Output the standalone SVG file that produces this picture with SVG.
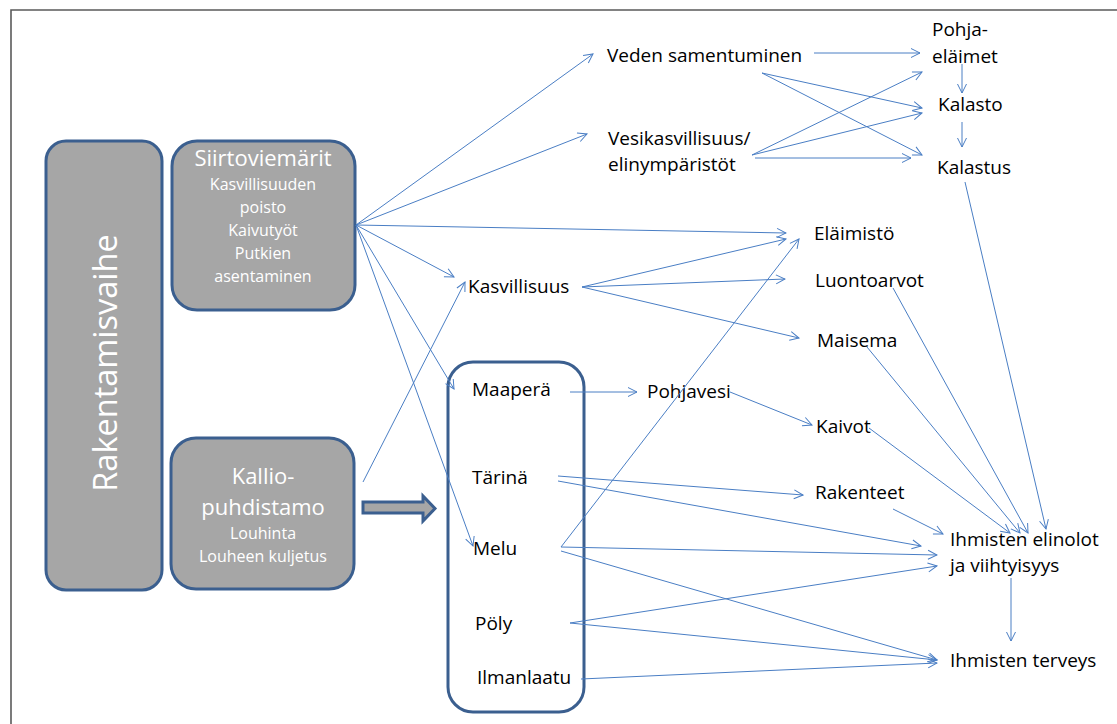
<svg xmlns="http://www.w3.org/2000/svg" width="1117" height="724" viewBox="0 0 1117 724">
  <style>
    .frame { fill: none; stroke: #5a5a5a; stroke-width: 1.6; }
    .phase { fill: #a6a6a6; stroke: #3b5f8f; stroke-width: 3; }
    .group { fill: none; stroke: #3b5f8f; stroke-width: 3; }
    .wt { font-family: "Open Sans", "Noto Sans", sans-serif; fill: #ffffff; text-anchor: middle; }
    .lbl { font-family: "Open Sans", "Noto Sans", sans-serif; font-size: 19px; fill: #000000; }
    .c line { stroke: #4a7ec4; stroke-width: 1; fill: none; marker-end: url(#ah); }
  </style>
  <defs>
    <marker id="ah" viewBox="-11 -6 12 12" refX="0" refY="0" markerWidth="12" markerHeight="12" markerUnits="userSpaceOnUse" orient="auto">
      <path d="M-9,-4.5 L0,0 L-9,4.5" fill="none" stroke="#4a7ec4" stroke-width="1"/>
    </marker>
  </defs>
  <rect width="1117" height="724" fill="#ffffff"/>
  <!-- page frame: top and left edges only -->
  <path class="frame" d="M11,724 L11,10 L1117,10"/>

  <!-- left-hand phase boxes -->
  <g id="rakentamisvaihe">
    <rect class="phase" x="46" y="141" width="116" height="449" rx="20"/>
    <text class="wt" font-size="32.5" transform="translate(117,363) rotate(-90)">Rakentamisvaihe</text>
  </g>
  <g id="siirtoviemarit">
    <rect class="phase" x="172" y="141" width="183" height="169" rx="25"/>
    <text class="wt" font-size="22" x="263" y="166">Siirtoviemärit</text>
    <text class="wt" font-size="16" x="263" y="190">Kasvillisuuden</text>
    <text class="wt" font-size="16" x="263" y="213">poisto</text>
    <text class="wt" font-size="16" x="263" y="236">Kaivutyöt</text>
    <text class="wt" font-size="16" x="263" y="259">Putkien</text>
    <text class="wt" font-size="16" x="263" y="282">asentaminen</text>
  </g>
  <g id="kalliopuhdistamo">
    <rect class="phase" x="171" y="438" width="183" height="151" rx="25"/>
    <text class="wt" font-size="22" x="263" y="484">Kallio-</text>
    <text class="wt" font-size="22" x="263" y="515">puhdistamo</text>
    <text class="wt" font-size="16" x="263" y="539">Louhinta</text>
    <text class="wt" font-size="16" x="263" y="562">Louheen kuljetus</text>
  </g>
  <g id="block-arrow">
    <path class="phase" stroke-width="2.5" d="M363,502 L423,502 L423,496 L435,508.5 L423,521 L423,513 L363,513 Z"/>
  </g>

  <!-- grouped effects box -->
  <g id="effects-box">
    <rect class="group" x="448" y="362" width="136" height="350" rx="25"/>
  </g>
  <g id="maapera"><text class="lbl" x="472" y="396">Maaperä</text></g>
  <g id="tarina"><text class="lbl" x="472" y="484">Tärinä</text></g>
  <g id="melu"><text class="lbl" x="473" y="555">Melu</text></g>
  <g id="poly"><text class="lbl" x="475" y="630">Pöly</text></g>
  <g id="ilmanlaatu"><text class="lbl" x="477" y="684">Ilmanlaatu</text></g>

  <!-- impact labels -->
  <g id="kasvillisuus"><text class="lbl" x="468" y="293">Kasvillisuus</text></g>
  <g id="veden-samentuminen"><text class="lbl" x="607" y="62">Veden samentuminen</text></g>
  <g id="vesikasvillisuus">
    <text class="lbl" x="608" y="145">Vesikasvillisuus/</text>
    <text class="lbl" x="608" y="171">elinympäristöt</text>
  </g>
  <g id="pohjaelaimet">
    <text class="lbl" x="932" y="36">Pohja-</text>
    <text class="lbl" x="932" y="63">eläimet</text>
  </g>
  <g id="kalasto"><text class="lbl" x="938" y="111">Kalasto</text></g>
  <g id="kalastus"><text class="lbl" x="937" y="174">Kalastus</text></g>
  <g id="elaimisto"><text class="lbl" x="814" y="240">Eläimistö</text></g>
  <g id="luontoarvot"><text class="lbl" x="815" y="287">Luontoarvot</text></g>
  <g id="maisema"><text class="lbl" x="817" y="347">Maisema</text></g>
  <g id="pohjavesi"><text class="lbl" x="647" y="398">Pohjavesi</text></g>
  <g id="kaivot"><text class="lbl" x="816" y="433">Kaivot</text></g>
  <g id="rakenteet"><text class="lbl" x="815" y="499">Rakenteet</text></g>
  <g id="elinolot">
    <text class="lbl" x="950" y="546">Ihmisten elinolot</text>
    <text class="lbl" x="950" y="572">ja viihtyisyys</text>
  </g>
  <g id="terveys"><text class="lbl" x="950" y="667">Ihmisten terveys</text></g>

  <!-- connectors -->
  <g id="connectors" class="c">
    <!-- from Siirtoviemärit -->
    <line x1="356" y1="225" x2="593" y2="54"/>
    <line x1="356" y1="225" x2="587" y2="134"/>
    <line x1="356" y1="225" x2="786" y2="233"/>
    <line x1="356" y1="225" x2="454" y2="277"/>
    <line x1="356" y1="225" x2="454" y2="389"/>
    <line x1="356" y1="225" x2="473" y2="546"/>
    <!-- from Kalliopuhdistamo -->
    <line x1="363" y1="482" x2="465" y2="282"/>
    <!-- water chain -->
    <line x1="814" y1="53" x2="920" y2="53"/>
    <line x1="762" y1="73" x2="922" y2="108"/>
    <line x1="762" y1="73" x2="922" y2="155"/>
    <line x1="752" y1="155" x2="922" y2="72"/>
    <line x1="752" y1="155" x2="922" y2="113"/>
    <line x1="755" y1="158" x2="911" y2="158"/>
    <line x1="962" y1="64" x2="962" y2="93"/>
    <line x1="962" y1="122" x2="962" y2="147"/>
    <line x1="965" y1="182" x2="1046" y2="529"/>
    <!-- from Kasvillisuus -->
    <line x1="582" y1="287" x2="786" y2="239"/>
    <line x1="582" y1="287" x2="785" y2="279"/>
    <line x1="582" y1="287" x2="799" y2="338"/>
    <!-- ground and water -->
    <line x1="570" y1="392" x2="637" y2="392"/>
    <line x1="730" y1="392" x2="812" y2="425"/>
    <line x1="869" y1="428" x2="1010" y2="533"/>
    <line x1="867" y1="347" x2="1020" y2="533"/>
    <line x1="893" y1="288" x2="1028" y2="533"/>
    <line x1="893" y1="509" x2="943" y2="534"/>
    <!-- Tärinä -->
    <line x1="558" y1="476" x2="803" y2="495"/>
    <line x1="558" y1="481" x2="921" y2="546"/>
    <!-- Melu -->
    <line x1="561" y1="547" x2="799" y2="239"/>
    <line x1="561" y1="547" x2="937" y2="555"/>
    <line x1="561" y1="551" x2="937" y2="660"/>
    <!-- Pöly -->
    <line x1="570" y1="623" x2="937" y2="566"/>
    <line x1="570" y1="623" x2="937" y2="660"/>
    <!-- Ilmanlaatu -->
    <line x1="581" y1="679" x2="937" y2="663"/>
    <!-- living conditions to health -->
    <line x1="1011" y1="578" x2="1011" y2="641"/>
  </g>
</svg>
